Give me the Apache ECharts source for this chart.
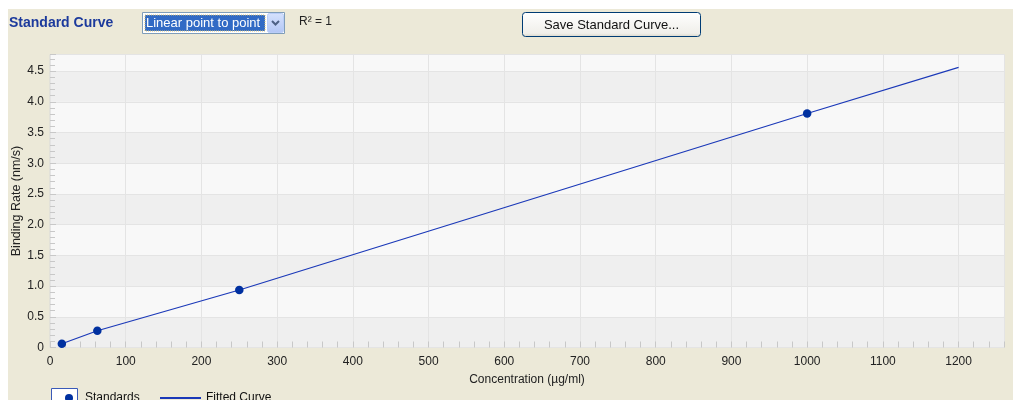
<!DOCTYPE html>
<html>
<head>
<meta charset="utf-8">
<title>Standard Curve</title>
<script src="https://cdn.jsdelivr.net/npm/echarts@6/dist/echarts.min.js"></script>
<style>
  html, body { margin: 0; padding: 0; background: #ffffff; }
  #chart { width: 1013px; height: 400px; }
</style>
</head>
<body>
<div id="chart"></div>
<script>
// Standards (4-fold dilution series) and their measured binding rates
const standardConc = [15.625, 62.5, 250, 1000];
const standardRate = [0.062, 0.273, 0.936, 3.81];

// Linear point-to-point fit, extended to 1200 µg/ml
const curveConc = [15.625, 62.5, 250, 1000, 1200];
const curveRate = [0.062, 0.273, 0.936, 3.81, 4.56];

// Axis tick labels
const xTickLabels = ['0', '100', '200', '300', '400', '500', '600', '700', '800', '900', '1000', '1100', '1200'];
const yTickLabels = ['0', '0.5', '1.0', '1.5', '2.0', '2.5', '3.0', '3.5', '4.0', '4.5'];

const FONT = '"Liberation Sans", Arial, sans-serif';
const BLUE = '#0030a0';

const chart = echarts.init(document.getElementById('chart'), null, { renderer: 'canvas' });

const labelFor = (list, step) => (v) => {
  const i = Math.round(v / step);
  return Math.abs(i * step - v) < 1e-6 && list[i] !== undefined ? list[i] : '';
};

chart.setOption({
  backgroundColor: '#ece9d8',
  animation: false,
  textStyle: { fontFamily: FONT },
  grid: {
    left: 50, right: 9, top: 54.5, bottom: 52.5,
    outerBoundsMode: 'none', containLabel: false,
    show: true, backgroundColor: '#f7f7f7', borderColor: '#d9d9d9', borderWidth: 1
  },
  xAxis: {
    type: 'value', min: 0, max: 1260, interval: 100,
    name: 'Concentration (µg/ml)', nameLocation: 'middle', nameGap: 26, nameMoveOverlap: false,
    nameTextStyle: { fontSize: 12, color: '#222', fontFamily: FONT },
    axisLine: { show: false },
    axisTick: { show: true, inside: true, length: 6, lineStyle: { color: '#c8c8c8' } },
    minorTick: { show: true, splitNumber: 5, length: 6, lineStyle: { color: '#c8c8c8' } },
    axisLabel: { showMaxLabel: false, margin: 8, fontSize: 12, color: '#222', fontFamily: FONT,
      formatter: labelFor(xTickLabels, 100) },
    splitLine: { show: true, lineStyle: { color: '#e4e4e4' } }
  },
  yAxis: {
    type: 'value', min: 0, max: 4.77, interval: 0.5,
    name: 'Binding Rate (nm/s)', nameLocation: 'middle', nameGap: 27, nameRotate: 90, nameMoveOverlap: false,
    nameTextStyle: { fontSize: 12.5, color: '#222', fontFamily: FONT },
    axisLine: { show: false },
    axisTick: { show: true, inside: true, length: 6, lineStyle: { color: '#c8c8c8' } },
    minorTick: { show: true, splitNumber: 5, length: 5, lineStyle: { color: '#c8c8c8' } },
    axisLabel: { showMaxLabel: false, margin: 6, fontSize: 12, color: '#222', fontFamily: FONT,
      formatter: labelFor(yTickLabels, 0.5) },
    splitLine: { show: true, lineStyle: { color: '#e4e4e4' } },
    splitArea: { show: true, areaStyle: { color: ['#efefef', '#f8f8f8'] } }
  },
  legend: [
    {
      data: ['Standards'], left: 60, top: 387, icon: 'circle', itemWidth: 8, itemHeight: 8,
      textStyle: { fontSize: 12, color: '#111', fontFamily: FONT, padding: [0, 0, 0, 7] },
      selectedMode: false
    },
    {
      data: ['Fitted Curve'], left: 155, top: 387, icon: 'rect', itemWidth: 41, itemHeight: 2,
      textStyle: { fontSize: 12, color: '#111', fontFamily: FONT },
      selectedMode: false
    }
  ],
  graphic: [
    // white frame along top and left edges
    { type: 'rect', left: 0, top: 0, shape: { width: 1013, height: 9 }, style: { fill: '#ffffff' }, silent: true },
    { type: 'rect', left: 0, top: 0, shape: { width: 8, height: 400 }, style: { fill: '#ffffff' }, silent: true },
    // header title
    { type: 'text', x: 9, y: 23, style: { text: 'Standard Curve', font: 'bold 14px ' + FONT, fill: '#1c3a9c', verticalAlign: 'middle' } },
    // fit-type dropdown
    { type: 'rect', shape: { x: 142.5, y: 12.5, width: 142, height: 21 }, style: { fill: '#ffffff', stroke: '#7f9db9', lineWidth: 1 } },
    { type: 'rect', shape: { x: 145, y: 15, width: 120, height: 16 }, style: { fill: '#316ac5', stroke: '#d8c070', lineWidth: 1, lineDash: [1, 1] } },
    { type: 'text', x: 146, y: 23, style: { text: 'Linear point to point', font: '13px ' + FONT, fill: '#ffffff', verticalAlign: 'middle' } },
    { type: 'rect', shape: { x: 267.5, y: 13.5, width: 16, height: 19, r: 2 },
      style: { stroke: '#b9cdf8', lineWidth: 1,
        fill: { type: 'linear', x: 0, y: 0, x2: 0, y2: 1, colorStops: [{ offset: 0, color: '#d6e2fd' }, { offset: 1, color: '#b2c6f5' }] } } },
    { type: 'polyline', shape: { points: [[272, 21], [275.5, 24.5], [279, 21]] }, style: { stroke: '#4d6185', lineWidth: 2, fill: null } },
    // R² readout
    { type: 'text', x: 299, y: 22, style: { text: 'R² = 1', font: '12px ' + FONT, fill: '#222', verticalAlign: 'middle' } },
    // save button
    { type: 'rect', shape: { x: 522.5, y: 12.5, width: 178, height: 24, r: 3 },
      style: { stroke: '#003c74', lineWidth: 1,
        fill: { type: 'linear', x: 0, y: 0, x2: 0, y2: 1, colorStops: [{ offset: 0, color: '#ffffff' }, { offset: 0.85, color: '#f0efea' }, { offset: 1, color: '#d8d5c8' }] } } },
    { type: 'text', x: 611.5, y: 25, style: { text: 'Save Standard Curve...', font: '13px ' + FONT, fill: '#111', align: 'center', verticalAlign: 'middle' } },
    // frame around the Standards legend marker
    { type: 'rect', z: 0, shape: { x: 51.5, y: 388.5, width: 26, height: 14 }, style: { fill: '#ffffff', stroke: '#3a5ab8', lineWidth: 1 } }
  ],
  series: [
    {
      name: 'Fitted Curve', type: 'line', z: 2,
      data: curveConc.map((c, i) => [c, curveRate[i]]),
      showSymbol: false, symbol: 'none',
      lineStyle: { color: '#1a38b8', width: 1.2 }, itemStyle: { color: '#1a38b8' }
    },
    {
      name: 'Standards', type: 'scatter', z: 3,
      data: standardConc.map((c, i) => [c, standardRate[i]]),
      symbol: 'circle', symbolSize: 8.5,
      itemStyle: { color: BLUE, opacity: 1 }
    }
  ]
});
</script>
</body>
</html>
